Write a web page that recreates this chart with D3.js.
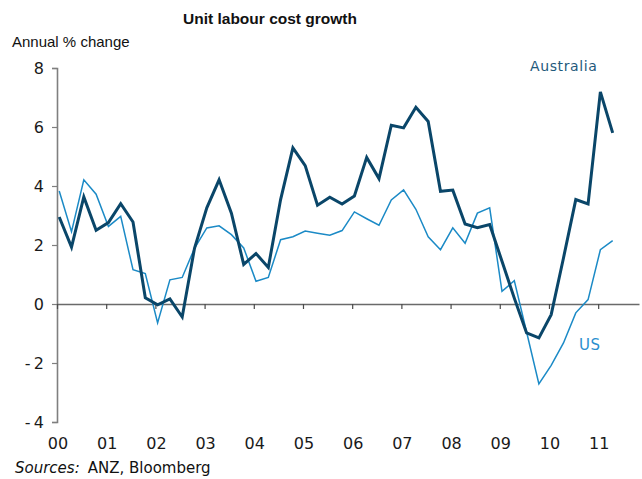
<!DOCTYPE html>
<html>
<head>
<meta charset="utf-8">
<script src="https://cdn.jsdelivr.net/npm/d3@7/dist/d3.min.js"></script>
<style>
  html, body { margin: 0; padding: 0; background: #fff; }
  svg { display: block; }
</style>
</head>
<body>
<div id="chart"></div>
<script>
// quarterly data, annual % change
var quarters = [
  "2000Q1", "2000Q2", "2000Q3", "2000Q4", "2001Q1", "2001Q2", "2001Q3", "2001Q4",
  "2002Q1", "2002Q2", "2002Q3", "2002Q4", "2003Q1", "2003Q2", "2003Q3", "2003Q4",
  "2004Q1", "2004Q2", "2004Q3", "2004Q4", "2005Q1", "2005Q2", "2005Q3", "2005Q4",
  "2006Q1", "2006Q2", "2006Q3", "2006Q4", "2007Q1", "2007Q2", "2007Q3", "2007Q4",
  "2008Q1", "2008Q2", "2008Q3", "2008Q4", "2009Q1", "2009Q2", "2009Q3", "2009Q4",
  "2010Q1", "2010Q2", "2010Q3", "2010Q4", "2011Q1", "2011Q2"
];
var australia = [
  2.95, 1.93, 3.63, 2.50, 2.76, 3.40, 2.78, 0.21, -0.03, 0.17, -0.44, 1.89,
  3.26, 4.21, 3.08, 1.34, 1.71, 1.24, 3.54, 5.29, 4.69, 3.35, 3.62, 3.39,
  3.66, 4.97, 4.25, 6.06, 5.97, 6.67, 6.19, 3.82, 3.86, 2.71, 2.59, 2.69,
  1.45, 0.20, -0.98, -1.15, -0.36, 1.56, 3.54, 3.39, 7.19, 5.80
];
var us = [
  3.83, 2.45, 4.21, 3.72, 2.63, 2.97, 1.16, 1.03, -0.64, 0.82, 0.90, 1.89,
  2.58, 2.65, 2.35, 1.90, 0.77, 0.90, 2.18, 2.28, 2.47, 2.40, 2.33, 2.49,
  3.12, 2.89, 2.67, 3.53, 3.87, 3.21, 2.28, 1.84, 2.58, 2.06, 3.08, 3.26,
  0.43, 0.79, -0.95, -2.71, -2.08, -1.32, -0.30, 0.15, 1.84, 2.15
];
var yearTicks = [2000, 2001, 2002, 2003, 2004, 2005, 2006, 2007, 2008, 2009, 2010, 2011];
var yTicks = [-4, -2, 0, 2, 4, 6, 8];

var W = 642, H = 479;
var svg = d3.select("#chart").append("svg").attr("width", W).attr("height", H);

var x = d3.scaleLinear().domain([2000, 2011.83]).range([57, 639]);
var y = d3.scaleLinear().domain([-4, 8]).range([422, 68]);

function qpos(s) {
  var yr = +s.slice(0, 4), q = +s.slice(5);
  return yr + (q - 1) * 0.25 + 0.045;
}

var tickFont = "'DejaVu Sans', Verdana, sans-serif";

// y axis
var yAxis = svg.append("g").attr("transform", "translate(57,0)")
  .call(d3.axisLeft(y).tickValues(yTicks).tickSize(5).tickPadding(8)
    .tickFormat(function (d) { return d < 0 ? "-\u2009" + Math.abs(d) : d; }));
yAxis.select(".domain").attr("stroke", "#7f7f7f").attr("stroke-width", 1.6);
yAxis.selectAll(".tick line").attr("stroke", "#7f7f7f").attr("stroke-width", 1.2);
yAxis.selectAll("text").attr("fill", "#1a1a1a").style("font-family", tickFont).style("font-size", "16px");

// zero line with ticks
var xAxis = svg.append("g").attr("transform", "translate(0," + y(0) + ")")
  .call(d3.axisBottom(x).tickValues(yearTicks).tickSize(5).tickSizeOuter(0).tickFormat(""));
xAxis.select(".domain").attr("stroke", "#6a6a6a").attr("stroke-width", 1.5);
xAxis.selectAll(".tick line").attr("stroke", "#4a4a4a").attr("stroke-width", 1.2);

// year labels below plot
svg.append("g").selectAll("text").data(yearTicks).join("text")
  .attr("x", function (d) { return x(d) + 1; })
  .attr("y", 449)
  .attr("text-anchor", "middle")
  .style("font-family", tickFont).style("font-size", "16px")
  .attr("fill", "#1a1a1a")
  .text(function (d) { return String(d).slice(2); });

var line = d3.line()
  .x(function (d, i) { return x(qpos(quarters[i])); })
  .y(function (d) { return y(d); });

svg.append("path").datum(us)
  .attr("fill", "none").attr("stroke", "#1b8ac6").attr("stroke-width", 1.5)
  .attr("stroke-linejoin", "miter").attr("d", line);

svg.append("path").datum(australia)
  .attr("fill", "none").attr("stroke", "#0a4669").attr("stroke-width", 3)
  .attr("stroke-linejoin", "miter").attr("d", line);

// series labels
svg.append("text").attr("x", 530).attr("y", 71)
  .style("font-family", tickFont).style("font-size", "14px").style("letter-spacing", "0.6px")
  .attr("fill", "#1f5a7c").text("Australia");
svg.append("text").attr("x", 579).attr("y", 350)
  .style("font-family", tickFont).style("font-size", "15px").style("letter-spacing", "0.6px")
  .attr("fill", "#2a8fcf").text("US");

// titles
svg.append("text").attr("x", 270).attr("y", 24).attr("text-anchor", "middle")
  .style("font-family", "'Liberation Sans', Arial, sans-serif").style("font-size", "15.5px")
  .style("font-weight", "bold").attr("fill", "#111").text("Unit labour cost growth");
svg.append("text").attr("x", 12).attr("y", 47)
  .style("font-family", "'Liberation Sans', Arial, sans-serif").style("font-size", "15px")
  .attr("fill", "#111").text("Annual % change");

var src = svg.append("text").attr("x", 15).attr("y", 473)
  .style("font-family", tickFont).style("font-size", "15px").attr("fill", "#111");
src.append("tspan").style("font-style", "italic").text("Sources:");
src.append("tspan").attr("dx", 8).text("ANZ, Bloomberg");
</script>
</body>
</html>
